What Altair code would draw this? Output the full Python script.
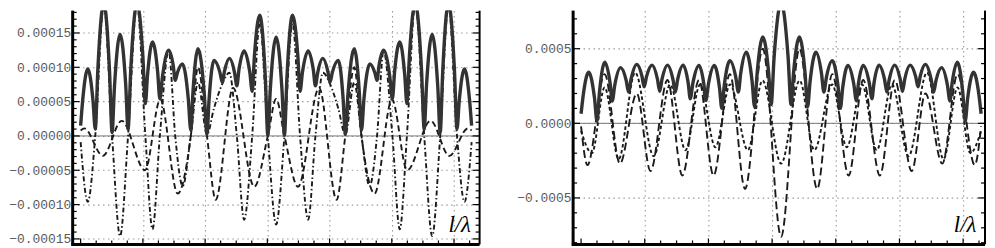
import altair as alt
import pandas as pd

# ---------------- left panel (values in units of 1e-5) ----------------
L_solid_x = [0.0, 0.035, 0.115, 0.199, 0.235, 0.276, 0.372, 0.465, 0.505, 0.544, 0.634, 0.724, 0.762, 0.805, 0.906, 1.0, 1.04, 1.075, 1.155, 1.238, 1.273, 1.316, 1.415, 1.489, 1.52, 1.555, 1.635, 1.73, 1.77, 1.805, 1.886, 1.987, 2.03, 2.064, 2.142, 2.237, 2.277, 2.311, 2.39, 2.474, 2.51, 2.545, 2.627, 2.718, 2.757, 2.793, 2.878, 2.969, 3.008, 3.048, 3.1416,
             3.235, 3.275, 3.314, 3.405, 3.490, 3.526, 3.565, 3.656, 3.738, 3.773, 3.809, 3.893, 3.972, 4.006, 4.046, 4.141, 4.219, 4.253, 4.296, 4.397, 4.478, 4.513, 4.553, 4.648, 4.728, 4.763, 4.794, 4.868, 4.967, 5.010, 5.045, 5.128, 5.208, 5.243, 5.283, 5.377, 5.478, 5.521, 5.559, 5.649, 5.739, 5.778, 5.818, 5.911, 6.007, 6.048, 6.084, 6.168, 6.248, 6.283]
L_solid_y = [1.5, 5.4, 9.75, 5.1, 1.0, 9.6, 19.3, 9.3, 0.5, 7.2, 14.8, 7.5, 1.0, 9.6, 19.3, 11.6, 4.7, 8.9, 13.7, 9.3, 5.4, 8.7, 12.5, 10.2, 8.1, 9.2, 10.5, 5.4, 0.8, 6.4, 12.7, 6.1, 0.2, 5.3, 11.0, 9.3, 7.8, 9.4, 11.3, 9.2, 7.3, 9.7, 12.4, 9.3, 6.5, 11.7, 17.6, 8.3, 0.1, 6.8, 14.4,
             6.8, 0.1, 8.3, 17.6, 11.7, 6.5, 9.3, 12.4, 9.7, 7.3, 9.2, 11.3, 9.4, 7.8, 9.3, 11.0, 5.3, 0.2, 6.1, 12.7, 6.4, 0.8, 5.4, 10.5, 9.2, 8.1, 10.2, 12.5, 8.7, 5.4, 9.3, 13.7, 8.9, 4.7, 11.6, 19.3, 9.6, 1.0, 7.5, 14.8, 7.2, 0.5, 9.3, 19.3, 9.6, 1.0, 5.1, 9.75, 5.4, 1.5]

L_dotdash_x = [0.0, 0.115, 0.235, 0.372, 0.505, 0.634, 0.762, 0.906, 1.04, 1.155, 1.273, 1.415, 1.52, 1.64, 1.77, 1.886, 2.03, 2.142, 2.277, 2.39, 2.51, 2.627, 2.757, 2.878, 3.008, 3.1416,
               3.275, 3.405, 3.526, 3.656, 3.773, 3.893, 4.006, 4.141, 4.253, 4.397, 4.513, 4.643, 4.763, 4.868, 5.010, 5.128, 5.243, 5.377, 5.521, 5.649, 5.778, 5.911, 6.048, 6.168, 6.283]
L_dotdash_y = [-0.9, -9.6, 0.0, 19.1, 0.0, -14.6, 0.0, 19.2, 0.0, -13.6, 0.0, 12.4, 0.0, -7.3, 0.0, 7.8, 0.2, 4.0, 7.6, 9.2, 0.0, -12.2, 0.0, 16.4, 0.0, -12.9,
               0.0, 16.4, 0.0, -12.2, 0.0, 9.2, 7.6, 4.0, 0.2, 7.8, 0.0, -7.3, 0.0, 12.4, 0.0, -13.6, 0.0, 19.2, 0.0, -14.6, 0.0, 19.1, 0.0, -9.6, -0.9]

L_dash_x = [0.0, 0.06, 0.357, 0.66, 1.035, 1.28, 1.56, 1.77, 1.886, 2.03, 2.17, 2.45, 2.79, 3.008, 3.1416,
            3.275, 3.493, 3.833, 4.113, 4.253, 4.397, 4.513, 4.723, 5.003, 5.248, 5.623, 5.926, 6.223, 6.283]
L_dash_y = [0.8, 1.1, -2.9, 2.2, -5.0, 5.3, -8.4, 0.0, 10.0, 0.0, -9.3, 7.0, -7.4, 0.0, 5.4,
            0.0, -7.4, 7.0, -9.3, 0.0, 10.0, 0.0, -8.4, 5.3, -5.0, 2.2, -2.9, 1.1, 0.8]

# ---------------- right panel (values in units of 1e-4) ----------------
R_solid_x = [0.0, 0.036, 0.12, 0.211, 0.25, 0.287, 0.373, 0.455, 0.49, 0.529, 0.621, 0.709, 0.746, 0.785, 0.875, 0.956, 0.99, 1.028, 1.115, 1.199, 1.235, 1.272, 1.357, 1.443, 1.48, 1.517, 1.604, 1.682, 1.715, 1.756, 1.852, 1.928, 1.96, 2.0, 2.092, 2.175, 2.21, 2.248, 2.338, 2.43, 2.47, 2.507, 2.594, 2.686, 2.725, 2.764, 2.854, 2.946, 2.985, 3.032, 3.1416,
             3.251, 3.298, 3.337, 3.429, 3.519, 3.558, 3.597, 3.689, 3.776, 3.813, 3.853, 3.945, 4.035, 4.073, 4.108, 4.191, 4.283, 4.323, 4.355, 4.431, 4.527, 4.568, 4.601, 4.679, 4.766, 4.803, 4.840, 4.926, 5.011, 5.048, 5.084, 5.168, 5.255, 5.293, 5.327, 5.408, 5.498, 5.537, 5.574, 5.662, 5.754, 5.793, 5.828, 5.910, 5.996, 6.033, 6.072, 6.163, 6.247, 6.283]
R_solid_y = [0.64, 1.95, 3.42, 1.69, 0.15, 2.01, 4.1, 2.72, 1.5, 2.55, 3.73, 2.86, 2.09, 2.96, 3.95, 3.16, 2.45, 3.13, 3.9, 2.97, 2.15, 2.97, 3.9, 2.94, 2.09, 2.94, 3.9, 2.71, 1.65, 2.69, 3.87, 2.63, 1.53, 2.63, 3.87, 2.35, 1.0, 2.5, 4.2, 3.08, 2.09, 3.34, 4.76, 2.82, 1.1, 3.3, 5.78, 3.38, 1.25, 4.46, 8.09,
             4.46, 1.25, 3.38, 5.78, 3.3, 1.1, 2.82, 4.76, 3.34, 2.09, 3.08, 4.2, 2.5, 1.0, 2.35, 3.87, 2.63, 1.53, 2.63, 3.87, 2.69, 1.65, 2.71, 3.9, 2.94, 2.09, 2.94, 3.9, 2.97, 2.15, 2.97, 3.9, 3.13, 2.45, 3.16, 3.95, 2.96, 2.09, 2.86, 3.73, 2.55, 1.5, 2.72, 4.1, 2.01, 0.15, 1.69, 3.42, 1.95, 0.64]

R_longdash_x = [0.0, 0.1, 0.37, 0.61, 0.875, 1.09, 1.357, 1.59, 1.852, 2.08, 2.338, 2.575, 2.854, 3.1416,
                3.429, 3.708, 3.945, 4.203, 4.431, 4.693, 4.926, 5.193, 5.408, 5.673, 5.913, 6.183, 6.283]
R_longdash_y = [-0.2, -2.8, 3.3, -2.7, 2.0, -3.2, 2.9, -3.5, 2.9, -3.5, 3.3, -4.4, 5.0, -7.6,
                5.0, -4.4, 3.3, -3.5, 2.9, -3.5, 2.9, -3.2, 2.0, -2.7, 3.3, -2.8, -0.2]

R_shortdash_x = [0.0, 0.17, 0.37, 0.59, 0.85, 1.14, 1.4, 1.64, 1.87, 2.11, 2.34, 2.62, 2.85, 3.1416,
                 3.433, 3.663, 3.943, 4.173, 4.413, 4.643, 4.883, 5.143, 5.433, 5.693, 5.913, 6.113, 6.283]
R_shortdash_y = [-0.5, -2.0, 2.4, -2.4, 3.4, -2.2, 2.6, -1.8, 2.6, -1.6, 2.6, -1.8, 2.87, -2.7,
                 2.87, -1.8, 2.6, -1.6, 2.6, -1.8, 2.6, -2.2, 3.4, -2.4, 2.4, -2.0, -0.5]

# ---------------- axes ----------------
x_grid = [1, 2, 3, 4, 5, 6]
x_ticks_minor = [k * 0.25 for k in range(0, 26)]
x_ticks_major = [0, 1, 2, 3, 4, 5, 6]

L_y_labels = [-0.00015, -0.0001, -0.00005, 0.0, 0.00005, 0.0001, 0.00015]
L_y_minor = [round(k * 1e-5, 10) for k in range(-15, 19)]
R_y_labels = [-0.0005, 0.0, 0.0005]
R_y_minor = [round(k * 1e-4, 10) for k in range(-8, 8)]

L_xdom = [-0.128, 6.411]
L_ydom = [-0.0001580, 0.0001826]
R_xdom = [-0.125, 6.344]
R_ydom = [-0.0008113, 0.0007553]

H = 235
LW = 409
RW = 414

LABEL_FONT = "Liberation Mono"
ONE = pd.DataFrame({"k": [0]})


def series(xs, ys, scale):
    return pd.DataFrame({"x": xs, "y": [v * scale for v in ys]})


def panel(lines, xdom, ydom, W, ylabels, yminor, yfmt):
    xs = alt.Scale(domain=xdom, nice=False, zero=False)
    ys = alt.Scale(domain=ydom, nice=False, zero=False)
    xaxis = alt.Axis(values=x_grid, grid=True, gridDash=[1.5, 3.5], gridColor="#9a9a9a",
                     gridWidth=1.1, labels=False, ticks=False, domain=False, title=None)
    yaxis = alt.Axis(values=ylabels, format=yfmt, grid=True, gridDash=[1.5, 3.5],
                     gridColor="#9a9a9a", gridWidth=1.1, ticks=False, tickSize=0,
                     domain=False, title=None, labelFont=LABEL_FONT, labelFontSize=13,
                     labelColor="#5a5a5a", labelPadding=2)

    def X(f):
        return alt.X(f, scale=xs, axis=xaxis)

    def Y(f):
        return alt.Y(f, scale=ys, axis=yaxis)

    layers = []
    for df, color, width, dash in lines:
        kw = dict(interpolate="monotone", clip=True, color=color, strokeWidth=width)
        if dash:
            kw["strokeDash"] = dash
        layers.append(alt.Chart(df).mark_line(**kw).encode(x=X("x:Q"), y=Y("y:Q")))

    zero = alt.Chart(pd.DataFrame({"v": [0.0]})).mark_rule(color="#777777", strokeWidth=1).encode(
        y=Y("v:Q"))

    def yt(vals, x0, x1):
        return alt.Chart(pd.DataFrame({"v": vals})).mark_rule(color="black", strokeWidth=1.2).encode(
            y=Y("v:Q"), x=alt.value(x0), x2=alt.value(x1))

    def xt(vals, length):
        return alt.Chart(pd.DataFrame({"v": vals})).mark_rule(color="black", strokeWidth=1.2).encode(
            x=X("v:Q"), y=alt.value(H), y2=alt.value(H - length))

    ymaj = ylabels
    ymin = [v for v in yminor if v not in ymaj]
    ticks = [yt(ymaj, 0, 7), yt(ymin, 0, 4), yt(ymaj, W, W - 7), yt(ymin, W, W - 4),
             xt(x_ticks_major, 6), xt([v for v in x_ticks_minor if v not in x_ticks_major], 4)]

    frame_left = alt.Chart(ONE).mark_rule(color="black", strokeWidth=3).encode(
        x=alt.value(0), y=alt.value(0), y2=alt.value(H))
    frame_bottom = alt.Chart(ONE).mark_rule(color="black", strokeWidth=3).encode(
        x=alt.value(-1.5), x2=alt.value(W), y=alt.value(H))
    frame_right = alt.Chart(ONE).mark_rule(color="black", strokeWidth=2).encode(
        x=alt.value(W), y=alt.value(0), y2=alt.value(H))
    label = alt.Chart(ONE).mark_text(text="l/λ", font="Liberation Serif", fontStyle="italic",
                                     fontSize=23, align="center", baseline="alphabetic",
                                     color="black").encode(x=alt.value(W - 20), y=alt.value(H - 12))

    return alt.layer(zero, *layers, *ticks, frame_left, frame_bottom, frame_right,
                     label).properties(width=W, height=H)


left = panel([
    (series(L_dash_x, L_dash_y, 1e-5), "#1a1a1a", 1.9, [6, 3.5]),
    (series(L_dotdash_x, L_dotdash_y, 1e-5), "#1a1a1a", 1.9, [5, 2.5, 1.5, 2.5]),
    (series(L_solid_x, L_solid_y, 1e-5), "#333333", 3.4, None),
], L_xdom, L_ydom, LW, L_y_labels, L_y_minor, ".5f")

right = panel([
    (series(R_shortdash_x, R_shortdash_y, 1e-4), "#1a1a1a", 1.9, [3.5, 2.5]),
    (series(R_longdash_x, R_longdash_y, 1e-4), "#1a1a1a", 1.9, [8, 4]),
    (series(R_solid_x, R_solid_y, 1e-4), "#333333", 3.4, None),
], R_xdom, R_ydom, RW, R_y_labels, R_y_minor, ".4f")

chart = alt.hconcat(left, right, spacing=94, bounds="flush").properties(
    padding={"left": 0, "top": 0, "right": 0, "bottom": 0}
).configure_view(stroke=None)

chart.save("out.html", embed_options={"renderer": "svg", "actions": False})
